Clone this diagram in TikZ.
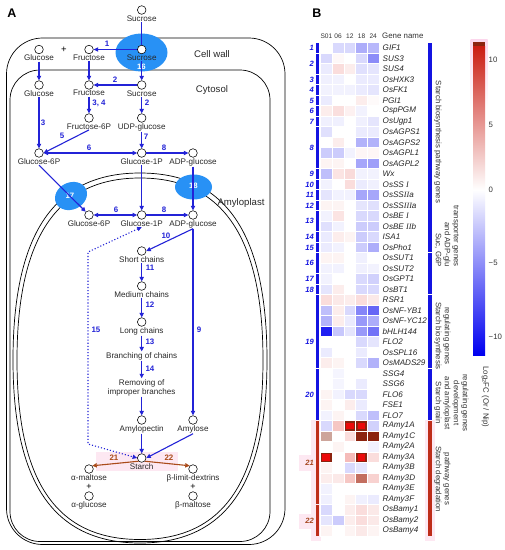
\documentclass[tikz,border=0pt]{standalone}
\usepackage{fontspec}
\setmainfont{Liberation Sans}
\newfontfamily\romfont{Liberation Serif}
\usetikzlibrary{arrows.meta,shapes.geometric,calc}
\definecolor{arrblue}{RGB}{35,35,215}
\definecolor{arrbrown}{RGB}{170,75,25}
\definecolor{lblgray}{RGB}{40,40,40}
\definecolor{trblue}{RGB}{40,145,245}
\definecolor{hmblue}{RGB}{0,0,240}
\definecolor{hmred}{RGB}{220,30,20}
\definecolor{hmbright}{RGB}{235,10,10}
\definecolor{hmdark}{RGB}{140,35,15}
\definecolor{hmrose}{RGB}{205,165,155}
\definecolor{hmrose2}{RGB}{195,110,95}
\definecolor{grpblue}{RGB}{20,20,225}
\definecolor{grpred}{RGB}{190,45,25}
\definecolor{numbrown}{RGB}{165,70,30}
\definecolor{pinkglow}{RGB}{252,214,236}
\definecolor{pinklite}{RGB}{253,232,242}
\newcommand\lblfont{\fontsize{8.1}{9.2}\selectfont}
\newcommand\numfont{\fontsize{7.9}{8}\selectfont\bfseries}
\newcommand\genefont{\fontsize{8.1}{8.5}\selectfont\itshape}
\newcommand\catfont{\fontsize{7.8}{9}\selectfont}
\newcommand\hmcell[3]{%
  \pgfmathsetmacro\hmx{320.5+(#1-1)*11.7}%
  \pgfmathsetmacro\hmy{42.7+(#2-1)*10.5}%
  \ifnum#3=101
    \fill[hmbright] (\hmx,\hmy) rectangle ++(11.7,10.5);
    \pgfmathsetmacro\hmxa{\hmx+1.3}\pgfmathsetmacro\hmya{\hmy+1.3}%
    \draw[hmdark,line width=1.2pt] (\hmxa,\hmya) rectangle ++(9.1,7.9);
  \else\ifnum#3=102
    \fill[hmdark] (\hmx,\hmy) rectangle ++(11.7,10.5);
  \else\ifnum#3=103
    \fill[hmrose] (\hmx,\hmy) rectangle ++(11.7,10.5);
  \else\ifnum#3=104
    \fill[hmrose2] (\hmx,\hmy) rectangle ++(11.7,10.5);
  \else\ifnum#3<0
    \pgfmathtruncatemacro\hmp{-(#3)}%
    \fill[hmblue!\hmp!white] (\hmx,\hmy) rectangle ++(11.7,10.5);
  \else
    \fill[hmred!#3!white] (\hmx,\hmy) rectangle ++(11.7,10.5);
  \fi\fi\fi\fi\fi
  \draw[white,line width=0.45pt] (\hmx,\hmy) rectangle ++(11.7,10.5);
}
\tikzset{
  pt/.style={circle,draw=black,fill=white,minimum size=8.6pt,inner sep=0pt,line width=0.55pt},
  lbl/.style={font=\lblfont,text=lblgray,inner sep=0.6pt},
  flow/.style={draw=arrblue,line width=1.1pt,-{Triangle[length=4.5pt,width=4.2pt]}},
  bflow/.style={draw=arrblue,line width=1.1pt,{Triangle[length=4.5pt,width=4.2pt]}-{Triangle[length=4.5pt,width=4.2pt]}},
  rflow/.style={draw=arrbrown,line width=1.1pt,-{Triangle[length=4.5pt,width=4.2pt]}},
  num/.style={font=\numfont,text=arrblue,inner sep=0.5pt},
  memb/.style={draw=black,line width=0.7pt},
  transp/.style={ellipse,fill=trblue,inner sep=0pt},
  gene/.style={font=\genefont,text=black!85,inner sep=0pt,anchor=west},
  cat/.style={font=\catfont,text=black!80,rotate=-90,inner sep=0pt,align=center},
  grpnum/.style={font=\fontsize{7.6}{8}\selectfont\bfseries\itshape,inner sep=0pt,anchor=east}
}
\begin{document}
\begin{tikzpicture}[x=1pt,y=-1pt]
\useasboundingbox (0,0) rectangle (505,550);
\fill[white] (0,0) rectangle (505,550);
% ---------------- Panel A ----------------
\node[font=\fontsize{12.5}{12}\selectfont\bfseries,inner sep=0pt] (labA) at (12,13) {A};
% membranes
\draw[memb,rounded corners=36pt] (6.5,38) rectangle (285,544.5);
\draw[memb,rounded corners=30pt] (10,70) rectangle (270,541.5);
\draw[memb] (13,360) .. controls (13,228) and (58,173) .. (140,173) .. controls (222,173) and (267,228) .. (267,360) .. controls (267,480) and (228,543) .. (140,543) .. controls (52,543) and (13,480) .. (13,360) -- cycle;
\draw[memb] (17,360) .. controls (17,232) and (61,178) .. (140,178) .. controls (219,178) and (263,232) .. (263,360) .. controls (263,478) and (226,539.5) .. (140,539.5) .. controls (54,539.5) and (17,478) .. (17,360) -- cycle;
\node[font=\fontsize{9.6}{10}\selectfont,text=lblgray] (tcw) at (212,54) {Cell wall};
\node[font=\fontsize{9.6}{10}\selectfont,text=lblgray] (tcy) at (212,90) {Cytosol};
\node[font=\fontsize{9.6}{10}\selectfont,text=lblgray] (tam) at (241,203) {Amyloplast};
% pink highlight
\fill[pinklite] (96,452) rectangle (178,471);
% transporters
\node[transp,minimum width=52pt,minimum height=38pt] (e16) at (141.5,52.5) {};
\node[transp,minimum width=33pt,minimum height=27pt,rotate=25] (e17) at (71,196) {};
\node[transp,minimum width=37pt,minimum height=25pt] (e18) at (193.5,187) {};
\node[font=\fontsize{7.8}{8}\selectfont\bfseries,text=white] (t16) at (141.5,67) {16};
\node[font=\fontsize{7.8}{8}\selectfont\bfseries,text=white] (t17) at (70,196) {17};
\node[font=\fontsize{7.8}{8}\selectfont\bfseries,text=white] (t18) at (193.5,186) {18};
% points
\node[pt] (topSuc) at (141.7,10) {};
\node[lbl,anchor=north] (topSucL) at (topSuc.south) {Sucrose};
\node[pt] (cwGlc) at (39,49.5) {};
\node[lbl,anchor=north] (cwGlcL) at (cwGlc.south) {Glucose};
\node[font=\fontsize{9.5}{9}\selectfont,inner sep=0pt] (plus1) at (64,50) {+};
\node[pt] (cwFru) at (89,49.5) {};
\node[lbl,anchor=north] (cwFruL) at (cwFru.south) {Fructose};
\node[pt] (cwSuc) at (141.7,49.5) {};
\node[lbl,anchor=north] (cwSucL) at (cwSuc.south) {Sucrose};
\node[pt] (cyGlc) at (39,85) {};
\node[lbl,anchor=north] (cyGlcL) at (cyGlc.south) {Glucose};
\node[pt] (cyFru) at (89,85) {};
\node[lbl,anchor=north] (cyFruL) at (cyFru.south) {Fructose};
\node[pt] (cySuc) at (141.7,85) {};
\node[lbl,anchor=north] (cySucL) at (cySuc.south) {Sucrose};
\node[pt] (F6P) at (89,118) {};
\node[lbl,anchor=north] (F6PL) at (F6P.south) {Fructose-6P};
\node[pt] (UDPG) at (141.7,118) {};
\node[lbl,anchor=north] (UDPGL) at (UDPG.south) {UDP-glucose};
\node[pt] (G6P) at (39,153) {};
\node[lbl,anchor=north] (G6PL) at (G6P.south) {Glucose-6P};
\node[pt] (G1P) at (141.7,153) {};
\node[lbl,anchor=north] (G1PL) at (G1P.south) {Glucose-1P};
\node[pt] (ADPG) at (193,153) {};
\node[lbl,anchor=north] (ADPGL) at (ADPG.south) {ADP-glucose};
\node[pt] (aG6P) at (89,215) {};
\node[lbl,anchor=north] (aG6PL) at (aG6P.south) {Glucose-6P};
\node[pt] (aG1P) at (141.7,215) {};
\node[lbl,anchor=north] (aG1PL) at (aG1P.south) {Glucose-1P};
\node[pt] (aADPG) at (193,215) {};
\node[lbl,anchor=north] (aADPGL) at (aADPG.south) {ADP-glucose};
\node[pt] (short) at (141.7,251) {};
\node[lbl,anchor=north] (shortL) at (short.south) {Short chains};
\node[pt] (medium) at (141.7,286) {};
\node[lbl,anchor=north] (mediumL) at (medium.south) {Medium chains};
\node[pt] (long) at (141.7,322) {};
\node[lbl,anchor=north] (longL) at (long.south) {Long chains};
\node[lbl] (branch) at (141.7,356) {Branching of chains};
\node[lbl,align=center] (remove) at (141.7,387.5) {Removing of\\improper branches};
\node[pt] (amylopectin) at (141.7,420) {};
\node[lbl,anchor=north] (amylopectinL) at (amylopectin.south) {Amylopectin};
\node[pt] (amylose) at (193,420) {};
\node[lbl,anchor=north] (amyloseL) at (amylose.south) {Amylose};
\node[pt] (starch) at (141.7,458) {};
\node[lbl,anchor=north] (starchL) at (starch.south) {Starch};
\node[pt] (amalt) at (89,469) {};
\node[lbl,anchor=north] (amaltL) at (amalt.south) {α-maltose};
\node[font=\fontsize{9}{9}\selectfont,inner sep=0pt] (plus2) at (89,486.5) {+};
\node[pt] (aglc) at (89,496) {};
\node[lbl,anchor=north] (aglcL) at (aglc.south) {α-glucose};
\node[pt] (bld) at (193,469) {};
\node[lbl,anchor=north] (bldL) at (bld.south) {β-limit-dextrins};
\node[font=\fontsize{9}{9}\selectfont,inner sep=0pt] (plus3) at (193,486.5) {+};
\node[pt] (bmalt) at (193,496) {};
\node[lbl,anchor=north] (bmaltL) at (bmalt.south) {β-maltose};
\coordinate (c15a) at (88,252);
\coordinate (c15b) at (88,444);
% connectors
\draw[draw=arrblue,line width=1.1pt] (topSucL.south) -- (cwSuc.north);
\draw[flow] (cwSuc.west) -- (cwFru.east);
\draw[flow] (cwGlcL.south) -- (cyGlc.north);
\draw[flow] (cwFruL.south) -- (cyFru.north);
\draw[flow] (cwSucL.south) -- (cySuc.north);
\draw[flow] (cySuc.west) -- (cyFru.east);
\draw[flow] (cyFruL.south) -- (F6P.north);
\draw[flow] (cySucL.south) -- (UDPG.north);
\draw[flow] (cyGlcL.south) -- (G6P.north);
\draw[flow] (F6PL.south) -- (G6P.east);
\draw[bflow] (G6P.east) -- (G1P.west);
\draw[flow] (UDPGL.south) -- (G1P.north);
\draw[flow] (G1P.east) -- (ADPG.west);
\draw[flow] (G6PL.south) -- (aG6P.north west);
\draw[flow] (G1PL.south) -- (aG1P.north);
\draw[flow] (ADPGL.south) -- (aADPG.north);
\draw[bflow] (aG6P.east) -- (aG1P.west);
\draw[flow] (aG1P.east) -- (aADPG.west);
\draw[flow] (aADPGL.south) -- (short.east);
\draw[flow] (aADPGL.south) -- (amylose.north);
\draw[flow] (shortL.south) -- (medium.north);
\draw[flow] (mediumL.south) -- (long.north);
\draw[flow] (longL.south) -- (branch.north);
\draw[flow] (branch.south) -- (remove.north);
\draw[flow] (remove.south) -- (amylopectin.north);
\draw[flow] (amylopectinL.south) -- (starch.north);
\draw[flow] (amyloseL.south) -- (starch.east);
\draw[draw=arrblue,line width=1.1pt,dotted,{Triangle[length=4.5pt,width=4.2pt]}-{Triangle[length=4.5pt,width=4.2pt]}] (aG1PL.south) -- (c15a) -- (c15b) -- (starch.west);
\draw[rflow] (starch.south west) -- (amalt.north east);
\draw[rflow] (starch.south east) -- (bld.north west);
% numbers
\node[num] (n1) at (107,44) {1};
\node[num] (n2a) at (115,80) {2};
\node[num] (n34) at (99,103) {3, 4};
\node[num] (n2b) at (147,103) {2};
\node[num] (n3) at (43,123) {3};
\node[num] (n5) at (62,136) {5};
\node[num] (n6a) at (89,148) {6};
\node[num] (n7) at (146,137) {7};
\node[num] (n8a) at (164,148) {8};
\node[num] (n6b) at (116,210) {6};
\node[num] (n8b) at (164,210) {8};
\node[num] (n10) at (166,236) {10};
\node[num] (n11) at (150,268) {11};
\node[num] (n12) at (150,305) {12};
\node[num] (n13) at (150,342) {13};
\node[num] (n14) at (150,369) {14};
\node[num] (n9) at (199,330) {9};
\node[num] (n15) at (96,330) {15};
\node[num,text=arrbrown] (n21) at (114,458) {21};
\node[num,text=arrbrown] (n22) at (169,458) {22};
% ---------------- Panel B ----------------
\node[font=\fontsize{12.5}{12}\selectfont\bfseries,inner sep=0pt] (labB) at (317,13) {B};
\foreach \t [count=\k] in {S01,06,12,18,24}
  \node[font=\fontsize{6.6}{7}\selectfont,text=black!80,inner sep=0pt] (h\k) at ({326.4+(\k-1)*11.7},36) {\t};
\node[font=\fontsize{7.9}{8}\selectfont,text=black!80,inner sep=0pt,anchor=west] (hgn) at (382,36) {Gene name};
% pink glows
\fill[pinklite] (311,419.5) rectangle (320.5,541);
\fill[pinklite] (299,455) rectangle (312,471);
\fill[pinklite] (299,514) rectangle (312,529);
\fill[pinklite] (425,419.5) rectangle (435,541);
% heat map
\foreach \r/\a/\b/\c/\d/\e in {
 1/0/-15/-15/-32/-28, 2/-15/3/0/-15/-45, 3/-8/15/8/-12/-10, 4/-6/-5/0/-8/-8,
 5/-5/-5/-5/-8/-10, 6/-8/0/0/8/2, 7/8/14/6/-5/0, 8/-6/-6/0/-6/-10,
 9/-12/0/0/-8/-8, 10/0/8/0/-30/-30, 11/-20/-20/-5/4/4, 12/5/5/0/-35/-38,
 13/-25/12/16/-5/-5, 14/-5/0/15/-8/-6, 15/-10/-5/-5/-35/-35, 16/5/5/0/-10/-12,
 17/-5/12/0/-15/-15, 18/-12/-5/0/-20/-20, 19/-8/8/5/-20/-15, 20/-8/-5/0/-20/-32,
 21/5/5/0/-6/0, 22/-5/-5/0/-6/-5, 23/-5/0/0/-15/-18, 24/-10/8/0/-15/-15,
 25/15/10/8/15/10, 26/-25/8/-15/-48/-60, 27/-30/8/-8/-40/-32, 28/-88/-22/-10/-40/-55,
 29/0/0/0/-15/-10, 30/-8/0/0/-8/0, 31/8/5/0/-15/-30, 32/0/-4/0/0/0,
 33/0/-4/0/-8/0, 34/5/-5/-15/-15/0, 35/5/0/8/-8/0, 36/-5/5/0/-15/-25,
 37/-15/25/101/101/-18, 38/103/0/15/102/102, 39/0/5/0/0/-5, 40/101/0/30/101/15,
 41/5/0/-15/-10/0, 42/8/10/25/104/20, 43/-5/0/0/0/0, 44/-6/0/5/-6/-8,
 45/-15/0/8/15/10, 46/-10/-20/8/15/10, 47/5/0/5/10/5}{
  \hmcell{1}{\r}{\a}\hmcell{2}{\r}{\b}\hmcell{3}{\r}{\c}\hmcell{4}{\r}{\d}\hmcell{5}{\r}{\e}
}
% gene names
\foreach \g [count=\r] in {GIF1,SUS3,SUS4,OsHXK3,OsFK1,PGI1,OspPGM,OsUgp1,OsAGPS1,OsAGPS2,OsAGPL1,OsAGPL2,Wx,
  OsSS {\romfont I},OsSS{\romfont II}a,OsSS{\romfont III}a,OsBE {\romfont I},OsBE {\romfont II}b,ISA1,OsPho1,
  OsSUT1,OsSUT2,OsGPT1,OsBT1,RSR1,OsNF-YB1,OsNF-YC12,bHLH144,FLO2,OsSPL16,OsMADS29,
  SSG4,SSG6,FLO6,FSE1,FLO7,RAmy1A,RAmy1C,RAmy2A,RAmy3A,RAmy3B,RAmy3D,RAmy3E,RAmy3F,
  OsBamy1,OsBamy2,OsBamy4}
  \node[gene] (g\r) at (382.5,{42.7+(\r-0.5)*10.5}) {\g};
% group bars and numbers
\foreach \n/\f/\l/\m in {1/1/1/1, 2/2/3/2.5, 3/4/4/4, 4/5/5/5, 5/6/6/6, 6/7/7/7, 7/8/8/8,
  8/9/12/10.5, 9/13/13/13, 10/14/14/14, 11/15/15/15, 12/16/16/16, 13/17/18/17.5,
  14/19/19/19, 15/20/20/20, 16/21/22/21.5, 17/23/23/23, 18/24/24/24, 19/25/31/29, 20/32/36/34}{
  \fill[grpblue] (315.8,{42.7+(\f-1)*10.5+0.5}) rectangle (319.4,{42.7+\l*10.5-0.5});
  \node[grpnum,text=grpblue] (gn\n) at (314,{42.7+(\m-0.5)*10.5}) {\n};
}
\foreach \n/\f/\l/\m in {21/37/44/40.5, 22/45/47/46}{
  \fill[grpred] (315.8,{42.7+(\f-1)*10.5+0.5}) rectangle (319.4,{42.7+\l*10.5-0.5});
  \node[grpnum,text=numbrown] (gn\n) at (314,{42.7+(\m-0.5)*10.5}) {\n};
}
% category bars
\fill[grpblue] (427.8,43.2) rectangle (431.8,252.2);
\fill[grpblue] (427.8,253.2) rectangle (431.8,294.2);
\fill[grpblue] (427.8,295.2) rectangle (431.8,367.7);
\fill[grpblue] (427.8,368.7) rectangle (431.8,420.2);
\fill[grpred] (427.8,421.2) rectangle (431.8,536.2);
\node[cat] (cat1) at (437.8,142) {Starch biosynthesis pathway genes};
\node[cat,align=right,anchor=east] (cat2) at (446.8,267) {transporter genes\\and ADP-glu\\Suc, G6P};
\node[cat] (cat3) at (442.3,336) {regulating genes\\Starch biosynthesis};
\node[cat] (cat4) at (451.3,403) {regulating genes\\development\\and amyloplast\\Starch grain};
\node[cat] (cat5) at (442.3,479) {pathway genes\\Starch degradation};
% colour bar
\shade[top color=pinkglow,bottom color=white] (470.5,39.5) rectangle (487.5,110);
\fill[hmdark] (473,42) rectangle (485,46);
\shade[top color=hmred!92!black,bottom color=white] (473,46) rectangle (485,190);
\shade[top color=white,bottom color=hmblue] (473,190) rectangle (485,355);
\foreach \t/\yy [count=\k] in {10/60,5/125,0/190,−5/263,−10/337}
  \node[font=\fontsize{7.8}{8}\selectfont,text=black!80,anchor=west,inner sep=0pt] (tk\k) at (488.5,\yy) {\t};
\node[font=\fontsize{7.8}{8}\selectfont,text=black!80,rotate=-90,inner sep=0pt] (cbl) at (485.5,397) {Log\textsubscript{2}FC (Or / Nip)};
\end{tikzpicture}
\end{document}
